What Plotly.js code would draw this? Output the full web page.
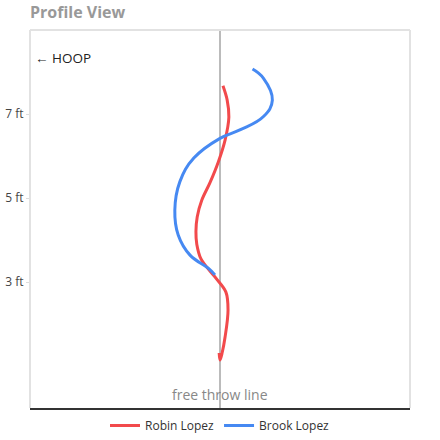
<!DOCTYPE html>
<html>
<head>
<meta charset="utf-8">
<script src="https://cdn.plot.ly/plotly-3.0.1.min.js"></script>
<style>html,body{margin:0;padding:0;background:#fff}#chart{width:440px;height:440px}</style>
</head>
<body>
<div id="chart"></div>
<script>
// Horizontal offset from the free throw line (ft) and height (ft)
var robinX = [0.07, 0.17, 0.21, 0.12, -0.04, -0.24, -0.43, -0.54, -0.57, -0.55, -0.45, -0.12, 0.14, 0.19, 0.12, 0.05, 0.00, -0.02];
var robinY = [7.67, 7.33, 6.93, 6.38, 5.86, 5.36, 4.95, 4.55, 4.20, 3.90, 3.55, 3.12, 2.76, 2.33, 1.69, 1.31, 1.14, 1.31];
var brookX = [0.77, 1.03, 1.24, 1.03, 0.47, 0.00, -0.62, -0.95, -1.07, -0.99, -0.71, -0.28, -0.12];
var brookY = [8.07, 7.85, 7.33, 6.94, 6.62, 6.42, 5.95, 5.39, 4.71, 4.12, 3.64, 3.33, 3.17];
var tickVals = [3, 5, 7];
var tickText = ['3 ft', '5 ft', '7 ft'];

var traces = [
  {x: robinX, y: robinY, name: 'Robin Lopez', mode: 'lines',
   line: {color: '#f24a4c', width: 3, shape: 'spline', smoothing: 1}},
  {x: brookX, y: brookY, name: 'Brook Lopez', mode: 'lines',
   line: {color: '#4689f2', width: 3, shape: 'spline', smoothing: 1.2}}
];

var layout = {
  width: 440, height: 440,
  margin: {l: 30, r: 30, t: 30, b: 32},
  paper_bgcolor: '#fff', plot_bgcolor: '#fff',
  font: {family: 'Open Sans, sans-serif', color: '#444'},
  title: {text: '<b>Profile View</b>', x: 0, xref: 'paper', xanchor: 'left', y: 0.985, yanchor: 'top',
          font: {family: 'Open Sans, sans-serif', size: 16, color: '#999'}},
  xaxis: {range: [-4.5, 4.5], showgrid: false, showticklabels: false, ticks: '',
          zeroline: false, showline: true, linecolor: '#333', linewidth: 2, mirror: false, fixedrange: true},
  yaxis: {range: [0, 9], showgrid: false, zeroline: false, tickvals: tickVals, ticktext: tickText,
          ticks: 'outside', ticklen: 3, tickcolor: '#ddd', tickfont: {size: 12, color: '#444'},
          showline: false, fixedrange: true},
  shapes: [
    {type: 'line', xref: 'x', yref: 'paper', x0: 0, x1: 0, y0: 0, y1: 1,
     line: {color: '#bbb', width: 2}, layer: 'below'},
    {type: 'line', xref: 'paper', yref: 'paper', x0: 0, x1: 0, y0: 0, y1: 1, line: {color: '#e2e2e2', width: 2}},
    {type: 'line', xref: 'paper', yref: 'paper', x0: 1, x1: 1, y0: 0, y1: 1, line: {color: '#e2e2e2', width: 2}},
    {type: 'line', xref: 'paper', yref: 'paper', x0: 0, x1: 1, y0: 1, y1: 1, line: {color: '#e2e2e2', width: 2}}
  ],
  annotations: [
    {text: '← HOOP', xref: 'paper', yref: 'paper', x: 0.008, y: 0.925, xanchor: 'left', yanchor: 'middle',
     showarrow: false, font: {size: 13.5, color: '#222'}},
    {text: 'free throw line', xref: 'x', yref: 'paper', x: 0, y: 0.037, xanchor: 'center', yanchor: 'middle',
     showarrow: false, font: {size: 14, color: '#888'}}
  ],
  showlegend: true,
  legend: {orientation: 'h', x: 0.5, xanchor: 'center', xref: 'paper', yref: 'container', y: 0.0, yanchor: 'bottom',
           font: {size: 12, color: '#333'}, itemwidth: 30}
};

Plotly.newPlot('chart', traces, layout, {displayModeBar: false, staticPlot: true});
</script>
</body>
</html>
